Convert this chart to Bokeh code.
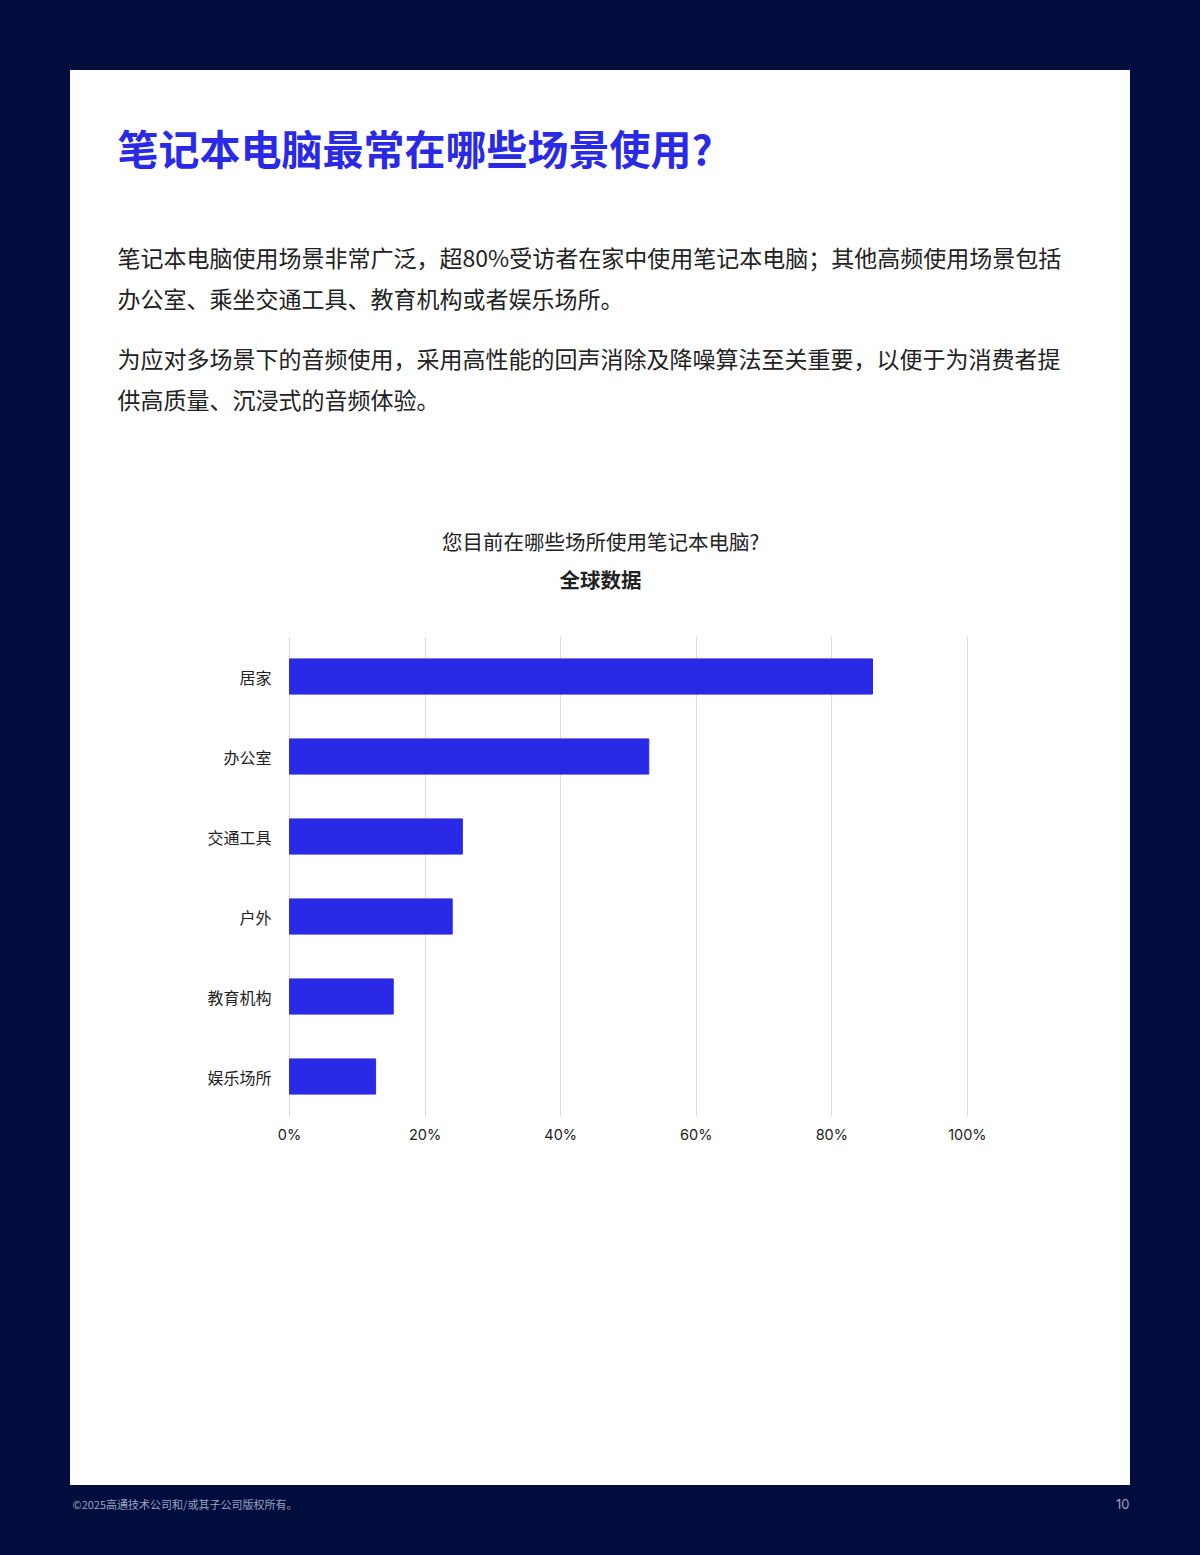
from bokeh.plotting import figure
from bokeh.models import Label, FactorRange, Range1d, FixedTicker, PrintfTickFormatter, Spacer
from bokeh.layouts import column, row
from bokeh.embed import file_html
from bokeh.resources import INLINE

# ---- data ----
categories = ["居家", "办公室", "交通工具", "户外", "教育机构", "娱乐场所"]
values = [86, 53, 25.5, 24, 15.3, 12.7]
tick_values = [0, 20, 40, 60, 80, 100]

title_text = "笔记本电脑最常在哪些场景使用?"
para_lines = [
    "笔记本电脑使用场景非常广泛，超80%受访者在家中使用笔记本电脑；其他高频使用场景包括",
    "办公室、乘坐交通工具、教育机构或者娱乐场所。",
    "为应对多场景下的音频使用，采用高性能的回声消除及降噪算法至关重要，以便于为消费者提",
    "供高质量、沉浸式的音频体验。",
]
chart_title = "您目前在哪些场所使用笔记本电脑?"
chart_subtitle = "全球数据"
footer_text = "©2025高通技术公司和/或其子公司版权所有。"
page_number = "10"

FONT = "Noto Sans CJK SC"
NAVY = "#000d3d"
BLUE = "#2a2ae6"
TEXT = "#222222"

PANEL_X, PANEL_Y, W = 70, 70, 1060
HEADER_H = 556
HEADER_BOTTOM = PANEL_Y + HEADER_H  # page y 626


def blank_fig(width, height, bg):
    fig = figure(width=width, height=height, x_range=Range1d(0, 1), y_range=Range1d(0, 1),
                 x_axis_type=None, y_axis_type=None, output_backend="svg",
                 toolbar_location=None, min_border=0)
    fig.background_fill_color = bg
    fig.border_fill_color = bg
    fig.outline_line_color = None
    fig.grid.grid_line_color = None
    return fig


# ---- header (title + paragraphs + chart title) ----
header = blank_fig(W, HEADER_H, "white")


def add_label(text, px, py, size, color=TEXT, style="normal", align="left"):
    header.add_layout(Label(
        x=px - PANEL_X, y=HEADER_BOTTOM - py, x_units="screen", y_units="screen",
        text=text, text_font=FONT, text_font_size=size, text_color=color,
        text_font_style=style, text_align=align, text_baseline="middle",
    ))


add_label(title_text, 117, 146, "41px", color=BLUE, style="bold")
for txt, py in zip(para_lines, [256, 297, 357, 398]):
    add_label(txt, 117, py, "23px")
add_label(chart_title, 600, 540, "20.5px", align="center")
add_label(chart_subtitle, 600, 578, "20.5px", style="bold", align="center")

# ---- chart ----
CH = 1485 - HEADER_BOTTOM          # 859
FL, FW = 288 - PANEL_X, 706        # frame left, frame width (-0.15..104)
FT, FH = 636 - HEADER_BOTTOM, 480  # frame top, frame height
p = figure(
    width=W, height=CH,
    x_range=Range1d(-0.15, 104),
    y_range=FactorRange(*list(reversed(categories)), range_padding=0),
    output_backend="svg", toolbar_location=None,
    min_border_left=FL, min_border_right=W - FL - FW,
    min_border_top=FT, min_border_bottom=CH - FT - FH,
)
p.background_fill_color = "white"
p.border_fill_color = "white"
p.outline_line_color = None

p.hbar(y=categories, right=values, left=0, height=0.44, color=BLUE, line_color=BLUE)

p.ygrid.grid_line_color = None
p.xgrid.grid_line_color = "#d8d9e2"
p.xgrid.grid_line_width = 1
p.xaxis.ticker = FixedTicker(ticks=tick_values)
p.xaxis.formatter = PrintfTickFormatter(format="%d%%")

for ax in (p.xaxis[0], p.yaxis[0]):
    ax.axis_line_color = None
    ax.major_tick_line_color = None
    ax.minor_tick_line_color = None
    ax.major_tick_out = 0
    ax.major_tick_in = 0
    ax.major_label_text_color = "#222222"

p.yaxis.major_label_text_font = FONT
p.yaxis.major_label_text_font_size = "16px"
p.yaxis.major_label_standoff = 17
p.xaxis.major_label_text_font = "Inter"
p.xaxis.major_label_text_font_size = "14.5px"
p.xaxis.major_label_standoff = 9

# ---- footer ----
FOOT_H = 1555 - 1485
f = blank_fig(1200, FOOT_H, NAVY)
f.add_layout(Label(x=72, y=1555 - 1503, x_units="screen", y_units="screen", text=footer_text,
                   text_font=FONT, text_font_size="11px", text_color="#9ea3c2",
                   text_baseline="middle"))
f.add_layout(Label(x=1129, y=1555 - 1503, x_units="screen", y_units="screen", text=page_number,
                   text_font="Inter", text_font_size="13px", text_color="#9ea3c2",
                   text_align="right", text_baseline="middle"))

panel = column(row(header), row(p), styles={"background-color": "white"})

layout = column(
    Spacer(width=1200, height=PANEL_Y),
    row(Spacer(width=PANEL_X, height=1485 - PANEL_Y), panel),
    f,
)

html = file_html(layout, INLINE, title="chart")
html = html.replace("</head>", "<style>html,body{background:%s;margin:0;}</style></head>" % NAVY, 1)
open("out.html", "w", encoding="utf-8").write(html)
